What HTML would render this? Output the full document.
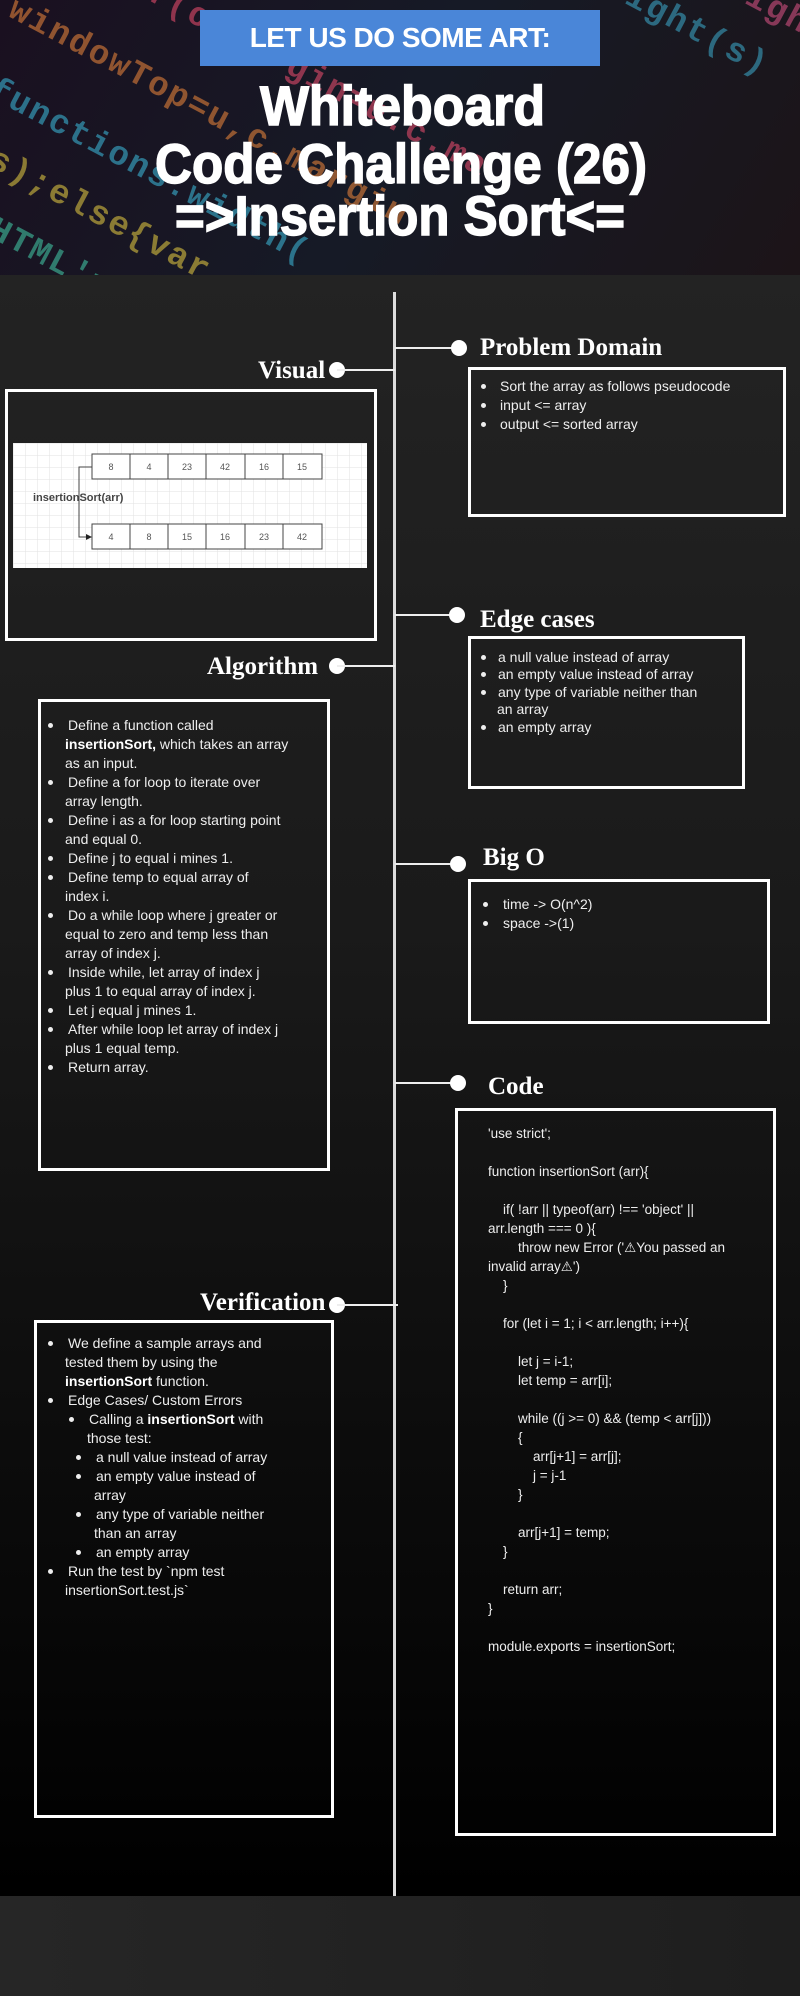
<!DOCTYPE html>
<html><head><meta charset="utf-8"><style>
*{margin:0;padding:0;box-sizing:border-box}
body{width:800px;height:1996px;position:relative;overflow:hidden;background:#222;font-family:"Liberation Sans",sans-serif;color:#eee}
.hdr{position:absolute;left:0;top:0;width:800px;height:275px;background:linear-gradient(120deg,#1a1020,#161a26 50%,#1c1418);overflow:hidden}
.code{position:absolute;font-family:"Liberation Mono",monospace;font-weight:bold;font-size:34px;white-space:nowrap;transform:rotate(28deg);transform-origin:0 0;opacity:.6;letter-spacing:2px}
.dark{position:absolute;left:0;top:275px;width:800px;height:1621px;background:linear-gradient(#232323,#1a1a1a 40%,#000 100%)}
.band{position:absolute;left:0;top:1896px;width:800px;height:100px;background:linear-gradient(90deg,#262626,#1e1e1e)}
.vl{position:absolute;left:393px;top:292px;width:3px;height:1604px;background:#ddd}
.hl{position:absolute;height:2px;background:#eee}
.dot{position:absolute;width:16px;height:16px;border-radius:50%;background:#fff}
.lbl{position:absolute;font-family:"Liberation Serif",serif;font-weight:bold;font-size:25px;color:#fff;line-height:30px;white-space:nowrap}
.box{position:absolute;border:3px solid #fff}
.t{position:absolute;font-size:14px;line-height:19px;color:#eee;white-space:nowrap}
.b{position:absolute;width:5px;height:5px;border-radius:50%;background:#eee}
</style></head><body>
<div class="hdr">
<div class="code" style="left:-20px;top:-120px;color:#e04a6a">argin});if(c.margin=u.c.ma</div>
<div class="code" style="left:-40px;top:-40px;color:#e0803a">th,windowTop=u,c.margin</div>
<div class="code" style="left:-60px;top:40px;color:#3ab0d0">s)}functions.width(</div>
<div class="code" style="left:-60px;top:110px;color:#d8c040">=b(s);else{var var</div>
<div class="code" style="left:-60px;top:180px;color:#40c0a0">f('HTML'===,(0)</div>
<div class="code" style="left:-60px;top:250px;color:#e04a6a">.left=0;</div>
<div class="code" style="left:300px;top:-200px;color:#3aa0c0">a.height:clientHeight(s)</div>
<div class="code" style="left:420px;top:-200px;color:#d05080">margin:e.offsetHeight,bor</div>
<div class="code" style="left:540px;top:-200px;color:#e0803a">urn e[0]}function p(1)?</div>
<div class="code" style="left:640px;top:-160px;color:#40b080">scrollTop:function</div>
<div class="code" style="left:720px;top:-150px;color:#e04a6a">DOCUMENT.null===</div>
<div style="position:absolute;left:200px;top:10px;width:400px;height:56px;background:#4a86d8;color:#fff;font-weight:bold;font-size:28px;line-height:56px;text-align:center;letter-spacing:-0.5px">LET US DO SOME ART:</div>
<svg width="800" height="275" style="position:absolute;left:0;top:0">
<g fill="#fff" stroke="#fff" stroke-width="1.5" font-weight="bold" font-family="Liberation Sans, sans-serif" font-size="56">
<text x="260" y="125" textLength="285" lengthAdjust="spacingAndGlyphs">Whiteboard</text>
<text x="155" y="183" textLength="492" lengthAdjust="spacingAndGlyphs">Code Challenge (26)</text>
<text x="175" y="235" textLength="450" lengthAdjust="spacingAndGlyphs">=&gt;Insertion Sort&lt;=</text>
</g></svg>
</div>
<div class="dark"></div>
<div class="band"></div>
<div class="vl"></div>

<!-- Problem Domain -->
<div class="hl" style="left:395px;top:347px;width:64px"></div>
<div class="dot" style="left:451px;top:340px"></div>
<div class="lbl" style="left:480px;top:333px">Problem Domain</div>
<div class="box" style="left:468px;top:367px;width:318px;height:150px"></div>
<div class="b" style="left:481px;top:384px"></div><div class="t" style="left:500px;top:377px">Sort the array as follows pseudocode</div>
<div class="b" style="left:481px;top:403px"></div><div class="t" style="left:500px;top:396px">input &lt;= array</div>
<div class="b" style="left:481px;top:422px"></div><div class="t" style="left:500px;top:415px">output &lt;= sorted array</div>

<!-- Visual -->
<div class="lbl" style="left:258px;top:356px">Visual</div>
<div class="dot" style="left:329px;top:362px"></div>
<div class="hl" style="left:337px;top:369px;width:58px"></div>
<div class="box" style="left:5px;top:389px;width:372px;height:252px"></div>
<svg style="position:absolute;left:13px;top:443px" width="354" height="125">
<defs><pattern id="g" width="12" height="12" patternUnits="userSpaceOnUse"><path d="M12 0H0V12" fill="none" stroke="#e2e2e2" stroke-width="1"/></pattern></defs>
<rect width="354" height="125" fill="#fff"/><rect width="354" height="125" fill="url(#g)"/>
<g fill="#fff" stroke="#444" stroke-width="1">
<rect x="79" y="11" width="230" height="25"/><rect x="79" y="81" width="230" height="25"/></g>
<g stroke="#444"><path d="M117 11V36M155 11V36M193 11V36M232 11V36M270 11V36M117 81V106M155 81V106M193 81V106M232 81V106M270 81V106"/>
<path d="M79 24H66V94H76" fill="none"/></g>
<path d="M79 94l-6-3v6z" fill="#222"/>
<g font-size="9" fill="#555" text-anchor="middle">
<text x="98" y="27">8</text><text x="136" y="27">4</text><text x="174" y="27">23</text><text x="212" y="27">42</text><text x="251" y="27">16</text><text x="289" y="27">15</text>
<text x="98" y="97">4</text><text x="136" y="97">8</text><text x="174" y="97">15</text><text x="212" y="97">16</text><text x="251" y="97">23</text><text x="289" y="97">42</text></g>
<text x="20" y="58" font-size="11" font-weight="bold" fill="#444">insertionSort(arr)</text>
</svg>

<!-- Edge cases -->
<div class="hl" style="left:395px;top:614px;width:62px"></div>
<div class="dot" style="left:449px;top:607px"></div>
<div class="lbl" style="left:480px;top:605px">Edge cases</div>
<div class="box" style="left:468px;top:636px;width:277px;height:153px"></div>
<div class="b" style="left:481px;top:655px"></div><div class="t" style="left:498px;top:648px">a null value instead of array</div>
<div class="b" style="left:481px;top:672px"></div><div class="t" style="left:498px;top:665px">an empty value instead of array</div>
<div class="b" style="left:481px;top:690px"></div><div class="t" style="left:498px;top:683px">any type of variable neither than</div>
<div class="t" style="left:497px;top:700px">an array</div>
<div class="b" style="left:481px;top:725px"></div><div class="t" style="left:498px;top:718px">an empty array</div>

<!-- Algorithm -->
<div class="lbl" style="left:207px;top:652px">Algorithm</div>
<div class="dot" style="left:329px;top:658px"></div>
<div class="hl" style="left:337px;top:665px;width:58px"></div>
<div class="box" style="left:38px;top:699px;width:292px;height:472px"></div>
<div class="b" style="left:48px;top:723px"></div><div class="t" style="left:68px;top:716px">Define a function called</div>
<div class="t" style="left:65px;top:735px"><b style="color:#fff">insertionSort,</b> which takes an array</div>
<div class="t" style="left:65px;top:754px">as an input.</div>
<div class="b" style="left:48px;top:780px"></div><div class="t" style="left:68px;top:773px">Define a for loop to iterate over</div>
<div class="t" style="left:65px;top:792px">array length.</div>
<div class="b" style="left:48px;top:818px"></div><div class="t" style="left:68px;top:811px">Define i as a for loop starting point</div>
<div class="t" style="left:65px;top:830px">and equal 0.</div>
<div class="b" style="left:48px;top:856px"></div><div class="t" style="left:68px;top:849px">Define j to equal i mines 1.</div>
<div class="b" style="left:48px;top:875px"></div><div class="t" style="left:68px;top:868px">Define temp to equal array of</div>
<div class="t" style="left:65px;top:887px">index i.</div>
<div class="b" style="left:48px;top:913px"></div><div class="t" style="left:68px;top:906px">Do a while loop where j greater or</div>
<div class="t" style="left:65px;top:925px">equal to zero and temp less than</div>
<div class="t" style="left:65px;top:944px">array of index j.</div>
<div class="b" style="left:48px;top:970px"></div><div class="t" style="left:68px;top:963px">Inside while, let array of index j</div>
<div class="t" style="left:65px;top:982px">plus 1 to equal array of index j.</div>
<div class="b" style="left:48px;top:1008px"></div><div class="t" style="left:68px;top:1001px">Let j equal j mines 1.</div>
<div class="b" style="left:48px;top:1027px"></div><div class="t" style="left:68px;top:1020px">After while loop let array of index j</div>
<div class="t" style="left:65px;top:1039px">plus 1 equal temp.</div>
<div class="b" style="left:48px;top:1065px"></div><div class="t" style="left:68px;top:1058px">Return array.</div>

<!-- Big O -->
<div class="hl" style="left:395px;top:863px;width:63px"></div>
<div class="dot" style="left:450px;top:856px"></div>
<div class="lbl" style="left:483px;top:843px">Big O</div>
<div class="box" style="left:468px;top:879px;width:302px;height:145px"></div>
<div class="b" style="left:483px;top:902px"></div><div class="t" style="left:503px;top:895px">time -&gt; O(n^2)</div>
<div class="b" style="left:483px;top:921px"></div><div class="t" style="left:503px;top:914px">space -&gt;(1)</div>

<!-- Code -->
<div class="hl" style="left:395px;top:1082px;width:63px"></div>
<div class="dot" style="left:450px;top:1075px"></div>
<div class="lbl" style="left:488px;top:1072px">Code</div>
<div class="box" style="left:455px;top:1108px;width:321px;height:728px"></div>
<div class="t" style="left:488px;top:1124px;font-size:13.5px;line-height:19px;white-space:pre">'use strict';

function insertionSort (arr){

    if( !arr || typeof(arr) !== 'object' ||
arr.length === 0 ){
        throw new Error ('⚠You passed an
invalid array⚠')
    }

    for (let i = 1; i &lt; arr.length; i++){

        let j = i-1;
        let temp = arr[i];

        while ((j &gt;= 0) &amp;&amp; (temp &lt; arr[j]))
        {
            arr[j+1] = arr[j];
            j = j-1
        }

        arr[j+1] = temp;
    }

    return arr;
}

module.exports = insertionSort;</div>

<!-- Verification -->
<div class="lbl" style="left:200px;top:1288px">Verification</div>
<div class="dot" style="left:329px;top:1297px"></div>
<div class="hl" style="left:337px;top:1304px;width:61px"></div>
<div class="box" style="left:34px;top:1320px;width:300px;height:498px"></div>
<div class="b" style="left:48px;top:1341px"></div><div class="t" style="left:68px;top:1334px">We define a sample arrays and</div>
<div class="t" style="left:65px;top:1353px">tested them by using the</div>
<div class="t" style="left:65px;top:1372px"><b style="color:#fff">insertionSort</b> function.</div>
<div class="b" style="left:48px;top:1398px"></div><div class="t" style="left:68px;top:1391px">Edge Cases/ Custom Errors</div>
<div class="b" style="left:69px;top:1417px"></div><div class="t" style="left:89px;top:1410px">Calling a <b style="color:#fff">insertionSort</b> with</div>
<div class="t" style="left:87px;top:1429px">those test:</div>
<div class="b" style="left:76px;top:1455px"></div><div class="t" style="left:96px;top:1448px">a null value instead of array</div>
<div class="b" style="left:76px;top:1474px"></div><div class="t" style="left:96px;top:1467px">an empty value instead of</div>
<div class="t" style="left:94px;top:1486px">array</div>
<div class="b" style="left:76px;top:1512px"></div><div class="t" style="left:96px;top:1505px">any type of variable neither</div>
<div class="t" style="left:94px;top:1524px">than an array</div>
<div class="b" style="left:76px;top:1550px"></div><div class="t" style="left:96px;top:1543px">an empty array</div>
<div class="b" style="left:48px;top:1569px"></div><div class="t" style="left:68px;top:1562px">Run the test by `npm test</div>
<div class="t" style="left:65px;top:1581px">insertionSort.test.js`</div>
</body></html>
